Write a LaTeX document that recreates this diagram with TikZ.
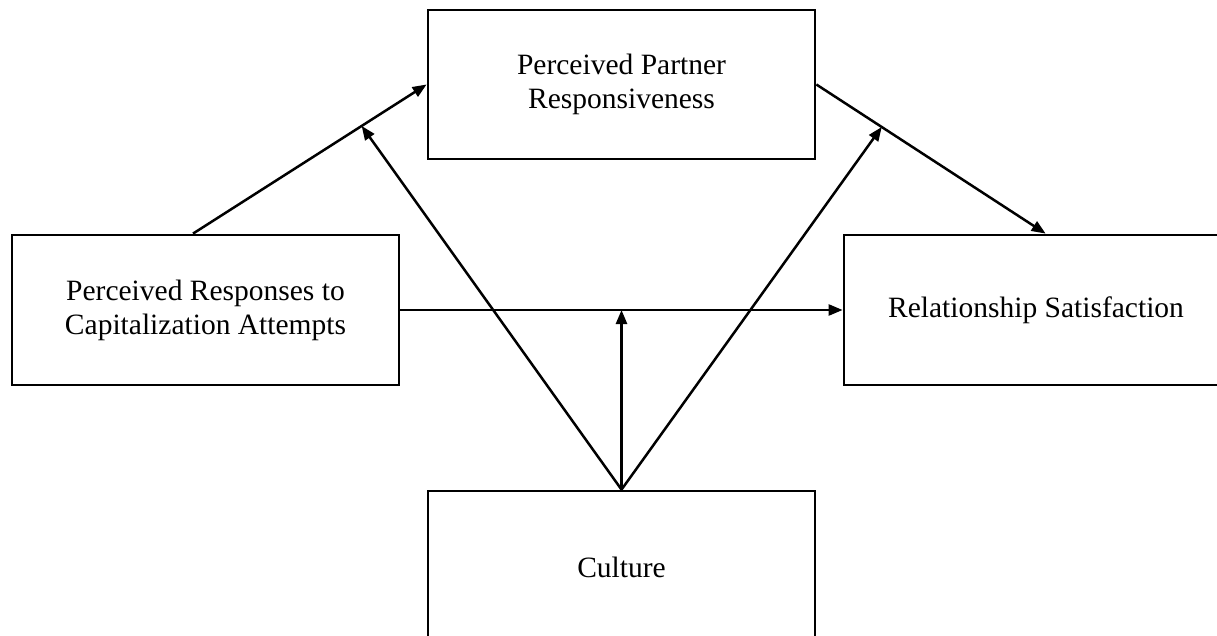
\documentclass[tikz,border=0pt]{standalone}
\usepackage{fontspec}
\setmainfont{Liberation Serif}
\usetikzlibrary{arrows.meta,calc}
\begin{document}
\begin{tikzpicture}[x=1pt,y=-1pt,
  boxnode/.style={draw=black,line width=2.8pt,rectangle,align=center,inner sep=0pt,
    font=\fontsize{29.5}{34}\selectfont},
  conn/.style={line width=2.5pt,-{Triangle[length=14pt,width=11pt]}}]
\useasboundingbox (0,0) rectangle (1217,636);
\clip (0,0) rectangle (1217,636);
\fill[white] (0,0) rectangle (1217,636);
% boxes
\node[boxnode,minimum width=387pt,minimum height=149pt] (T) at (621.5,84.5) {Perceived Partner\\Responsiveness};
\node[boxnode,minimum width=387pt,minimum height=150pt] (L) at (205.5,310) {Perceived Responses to\\Capitalization Attempts};
\node[boxnode,minimum width=384pt,minimum height=150pt] (R) at (1036,310) {Relationship Satisfaction};
\node[boxnode,minimum width=387pt,minimum height=152pt] (C) at (621.5,567) {Culture};
% main paths
\coordinate (ls) at ($(L.north west)!0.468!(L.north east)$);
\coordinate (re) at ($(R.north west)+(203,0)$);
\draw[conn] (ls) -- coordinate[pos=0.722] (m1) (T.west);
\draw[conn] (T.east) -- coordinate[pos=0.285] (m2) (re);
\draw[conn] (L.east) -- (L.east -| R.west);
\coordinate (m3) at (C.north |- L.east);
% moderation arrows
\draw[conn] (C.north) -- (m1);
\draw[conn] (C.north) -- (m2);
\draw[conn] (C.north) -- (m3);
\end{tikzpicture}
\end{document}
